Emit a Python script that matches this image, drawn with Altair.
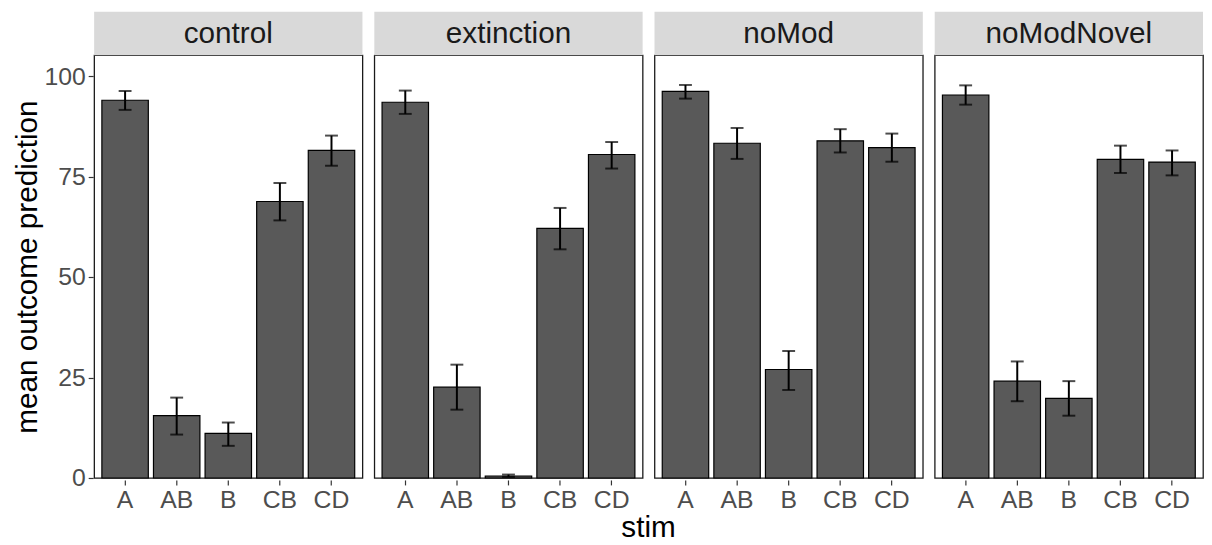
import altair as alt
import pandas as pd

groups = ["control", "extinction", "noMod", "noModNovel"]
stims = ["A", "AB", "B", "CB", "CD"]

mean_control = [94.0, 15.5, 11.1, 68.8, 81.5]
lo_control = [91.6, 10.8, 8.0, 64.1, 77.7]
hi_control = [96.3, 20.0, 13.8, 73.4, 85.2]

mean_extinction = [93.5, 22.6, 0.5, 62.1, 80.5]
lo_extinction = [90.6, 17.0, 0.25, 56.9, 77.0]
hi_extinction = [96.4, 28.2, 0.85, 67.2, 83.6]

mean_noMod = [96.2, 83.3, 27.0, 83.9, 82.2]
lo_noMod = [94.4, 79.4, 21.9, 81.0, 78.7]
hi_noMod = [97.8, 87.1, 31.6, 86.8, 85.7]

mean_noModNovel = [95.3, 24.1, 19.8, 79.3, 78.6]
lo_noModNovel = [92.9, 19.1, 15.5, 75.9, 75.3]
hi_noModNovel = [97.7, 29.0, 24.1, 82.7, 81.5]

means = [mean_control, mean_extinction, mean_noMod, mean_noModNovel]
los = [lo_control, lo_extinction, lo_noMod, lo_noModNovel]
his = [hi_control, hi_extinction, hi_noMod, hi_noModNovel]

rows = []
for g, m, lo, hi in zip(groups, means, los, his):
    for s, mv, l, h in zip(stims, m, lo, hi):
        rows.append({"group": g, "stim": s, "mean": mv, "lo": l, "hi": h})
df = pd.DataFrame(rows)

FONT = "Liberation Sans"
W = 271
H = 427
STRIP = 44

xscale = alt.Scale(paddingInner=0.1, paddingOuter=0.15)
xenc = alt.X("stim:N", sort=stims, scale=xscale,
             axis=alt.Axis(title=None, labelAngle=0))
yscale = alt.Scale(domain=[0, 105.2], nice=False, zero=True)

bars = alt.Chart().mark_bar(color="#595959", stroke="black", strokeWidth=1.2).encode(
    x=xenc,
    y=alt.Y("mean:Q", scale=yscale,
            axis=alt.Axis(values=[0, 25, 50, 75, 100], title="mean outcome prediction")),
)
rules = alt.Chart().mark_rule(color="black", strokeWidth=2).encode(
    x=alt.X("stim:N", sort=stims), y="lo:Q", y2="hi:Q"
)
cap_lo = alt.Chart().mark_tick(color="black", thickness=2, size=13).encode(
    x=alt.X("stim:N", sort=stims), y="lo:Q"
)
cap_hi = alt.Chart().mark_tick(color="black", thickness=2, size=13).encode(
    x=alt.X("stim:N", sort=stims), y="hi:Q"
)
strip = alt.Chart().transform_filter(alt.datum.stim == "A").mark_rect(
    color="#D9D9D9"
).encode(x=alt.value(0), x2=alt.value(W), y=alt.value(-STRIP), y2=alt.value(0))
label = alt.Chart().transform_filter(alt.datum.stim == "A").mark_text(
    font=FONT, fontSize=30, color="#1A1A1A", baseline="middle", align="center"
).encode(text="group:N", x=alt.value(W / 2), y=alt.value(-STRIP / 2 + 1))

layer = alt.layer(strip, label, bars, rules, cap_lo, cap_hi, data=df).properties(
    width=W, height=H
)

chart = layer.facet(
    column=alt.Column(
        "group:N", sort=groups,
        header=alt.Header(labels=False, title="stim", titleOrient="bottom",
                          titleFont=FONT, titleFontSize=30, titleColor="black",
                          titleFontWeight="normal", titlePadding=-9),
    ),
    spacing=10,
).properties(
    padding={"left": 5, "top": 0, "right": 0, "bottom": 0}
).configure_view(
    stroke="#1a1a1a", strokeWidth=1.3
).configure_axis(
    labelFont=FONT, labelFontSize=25, labelColor="#4D4D4D",
    tickColor="#333333", tickSize=5, tickWidth=1.2, labelPadding=3,
    domain=False, grid=False,
    titleFont=FONT, titleFontSize=30, titleColor="black", titleFontWeight="normal",
    titlePadding=1,
)

chart.save("out.html", embed_options={"renderer": "svg", "actions": False})
